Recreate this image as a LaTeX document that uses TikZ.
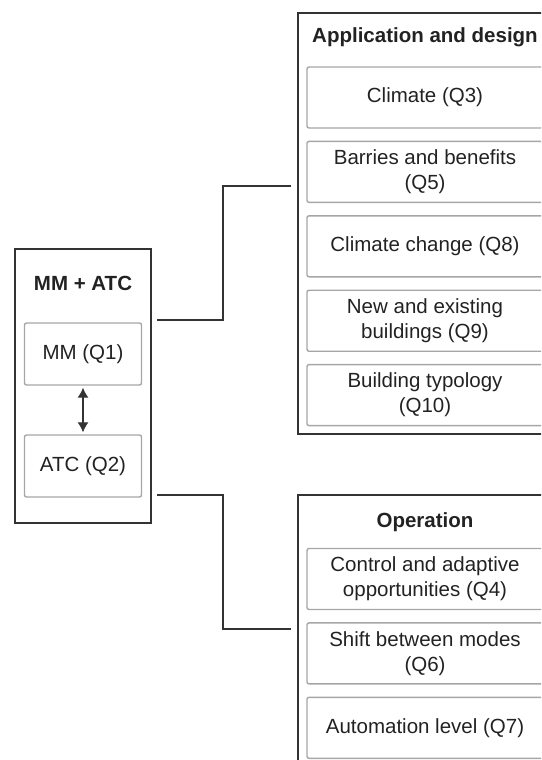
\documentclass[tikz,border=0pt]{standalone}
\usepackage{fontspec}
\setmainfont{Liberation Sans}
\usetikzlibrary{positioning,arrows.meta}
\definecolor{framegray}{HTML}{333333}
\definecolor{itemgray}{HTML}{A6A6A6}
\definecolor{textgray}{HTML}{222222}
\tikzset{
  group/.style={draw=framegray, line width=1.3pt, inner sep=0pt},
  item/.style={draw=itemgray, line width=1.4pt, rounded corners=2pt, align=center,
    minimum height=61pt, text=textgray, font=\fontsize{20.5}{25}\selectfont},
  title/.style={text=textgray, font=\fontsize{20.5}{25}\selectfont\bfseries},
  link/.style={draw=framegray, line width=1.3pt}
}
\begin{document}
\begin{tikzpicture}[x=1pt, y=-1pt, node distance=12pt]
  \useasboundingbox (0,0) rectangle (541,760);
  \clip (0,0) rectangle (541,760);
  % left group
  \node (mmatc) [group, minimum width=136pt, minimum height=274pt] at (83,386) {};
  \node (mmatct) [title] at (83,283) {MM + ATC};
  \node (mm) [item, minimum width=117pt, minimum height=62pt] at (83,354) {MM (Q1)};
  \node (atc) [item, minimum width=117pt, minimum height=62pt] at (83,466) {ATC (Q2)};
  \draw[framegray, line width=1.1pt, {Latex[length=10pt,width=11pt]}-{Latex[length=10pt,width=11pt]}, shorten <=2pt, shorten >=2pt] (mm) -- (atc);
  % application and design
  \node (appl) [group, minimum width=254pt, minimum height=421pt] at (425,223.5) {};
  \node (applt) [title] at (425,37) {Application and design};
  \node (clim) [item, minimum width=236pt] at (425,97.5) {Climate (Q3)};
  \node (barr) [item, minimum width=236pt, below=of clim] {Barries and benefits\\(Q5)};
  \node (chg) [item, minimum width=236pt, below=of barr] {Climate change (Q8)};
  \node (bldg) [item, minimum width=236pt, below=of chg] {New and existing\\buildings (Q9)};
  \node (typo) [item, minimum width=236pt, below=of bldg] {Building typology\\(Q10)};
  % operation
  \node (oper) [group, minimum width=254pt, minimum height=320pt] at (425,655) {};
  \node (opert) [title] at (425,522) {Operation};
  \node (ctrl) [item, minimum width=236pt] at (425,579) {Control and adaptive\\opportunities (Q4)};
  \node (shift) [item, minimum width=236pt, below=of ctrl] {Shift between modes\\(Q6)};
  \node (auto) [item, minimum width=236pt, below=of shift] {Automation level (Q7)};
  % connectors
  \coordinate (s1) at (157,320);
  \coordinate (e1) at (291,186);
  \coordinate (s2) at (157,495);
  \coordinate (e2) at (291,629);
  \draw[link] (s1) -- ++(66,0) |- (e1);
  \draw[link] (s2) -- ++(66,0) |- (e2);
\end{tikzpicture}
\end{document}
